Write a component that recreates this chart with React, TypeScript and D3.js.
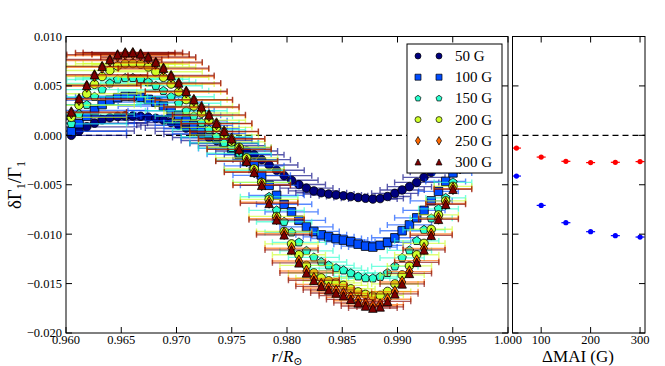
import React from 'react'
import * as d3 from 'd3'

// fractional radius of each inversion point (shared by all series)
const radius = [
  0.96048, 0.96118, 0.96188, 0.96258, 0.96327, 0.96397, 0.96467, 0.96536, 0.96605, 0.96675,
  0.96744, 0.96813, 0.96882, 0.96951, 0.9702, 0.97088, 0.97157, 0.97226, 0.97294, 0.97362,
  0.97431, 0.97499, 0.97567, 0.97635, 0.97703, 0.97771, 0.97838, 0.97906, 0.97974, 0.98041,
  0.98108, 0.98176, 0.98243, 0.9831, 0.98377, 0.98444, 0.98511, 0.98577, 0.98644, 0.98711,
  0.98777, 0.98843, 0.9891, 0.98976, 0.99042, 0.99108, 0.99174, 0.9924, 0.99305, 0.99371,
  0.99436, 0.99502, 0.99567,
]
// horizontal (radial) half-width of the error bars
const radiusErr = [
  0.005, 0.005, 0.0049, 0.0048, 0.0048, 0.0047, 0.0046, 0.0045, 0.0045, 0.0044,
  0.0043, 0.0042, 0.0041, 0.0039, 0.0038, 0.0037, 0.0035, 0.0034, 0.0033, 0.0032,
  0.0031, 0.003, 0.0029, 0.0028, 0.0027, 0.0026, 0.0026, 0.0025, 0.0025, 0.0024,
  0.0024, 0.0024, 0.0023, 0.0023, 0.0023, 0.0023, 0.0022, 0.0022, 0.0022, 0.0022,
  0.0022, 0.0021, 0.0021, 0.0021, 0.002, 0.002, 0.002, 0.0019, 0.0019, 0.0018,
  0.0018, 0.0017, 0.0017,
]

const g50 = [
  0.0, 0.00044, 0.00086, 0.00123, 0.00157, 0.00178, 0.00191, 0.00196, 0.00196, 0.00193,
  0.00184, 0.00172, 0.00154, 0.00129, 0.00103, 0.00073, 0.0004, 0.0001, -0.00022, -0.00053,
  -0.00083, -0.00105, -0.00125, -0.00159, -0.00197, -0.00246, -0.003, -0.00354, -0.00408, -0.00455,
  -0.00498, -0.00534, -0.00562, -0.00581, -0.00594, -0.00603, -0.00612, -0.0062, -0.00629, -0.00637,
  -0.00645, -0.0064, -0.00619, -0.00587, -0.00553, -0.00519, -0.00476, -0.00425, -0.00374, -0.00314,
  -0.00248, -0.00177, -0.00106,
]
const g100 = [
  0.0004, 0.00118, 0.00192, 0.00253, 0.00311, 0.00354, 0.00381, 0.00394, 0.00393, 0.00385,
  0.00364, 0.00336, 0.00296, 0.00248, 0.00202, 0.00147, 0.00101, 0.00066, 0.0002, -0.00025,
  -0.00076, -0.00132, -0.00192, -0.00253, -0.00309, -0.00405, -0.00506, -0.00607, -0.00698, -0.00774,
  -0.0086, -0.00926, -0.00972, -0.01007, -0.01027, -0.01045, -0.0106, -0.01076, -0.01101, -0.01121,
  -0.01131, -0.01113, -0.01083, -0.01037, -0.00966, -0.00906, -0.00835, -0.00759, -0.00663, -0.00567,
  -0.00466, -0.0038, -0.00273,
]
const g150 = [
  0.00116, 0.00216, 0.00309, 0.0039, 0.00462, 0.00526, 0.00565, 0.0058, 0.00581, 0.00567,
  0.00538, 0.00501, 0.0045, 0.0039, 0.00324, 0.00248, 0.00194, 0.00127, 0.00056, -0.00015,
  -0.00076, -0.00127, -0.00182, -0.00253, -0.00354, -0.00476, -0.00622, -0.00759, -0.00875, -0.00982,
  -0.01083, -0.01169, -0.01235, -0.01282, -0.01316, -0.01344, -0.01366, -0.01395, -0.01427, -0.01445,
  -0.01447, -0.01432, -0.01392, -0.01326, -0.0124, -0.01164, -0.01068, -0.00956, -0.0084, -0.00744,
  -0.00633, -0.00476, -0.00283,
]
const g200 = [
  0.00182, 0.00304, 0.0042, 0.00516, 0.00595, 0.00656, 0.00702, 0.00725, 0.00727, 0.00719,
  0.00692, 0.00643, 0.00587, 0.00519, 0.0044, 0.00361, 0.00296, 0.00226, 0.00152, 0.00081,
  0.00005, -0.00066, -0.00121, -0.00228, -0.00339, -0.00476, -0.00648, -0.0082, -0.00972, -0.01098,
  -0.01209, -0.01316, -0.01392, -0.01442, -0.01472, -0.01493, -0.01518, -0.01553, -0.01584, -0.01609,
  -0.01627, -0.01619, -0.01579, -0.01503, -0.01412, -0.01321, -0.01209, -0.01093, -0.00951, -0.00805,
  -0.00663, -0.00516, -0.00314,
]
const g250 = [
  0.00228, 0.00362, 0.00496, 0.00603, 0.00688, 0.00757, 0.00806, 0.00826, 0.00828, 0.00814,
  0.00783, 0.00731, 0.0067, 0.00596, 0.00521, 0.00438, 0.00354, 0.00281, 0.00201, 0.00117,
  0.00037, -0.00037, -0.00142, -0.0026, -0.00369, -0.00499, -0.00677, -0.00843, -0.00993, -0.01143,
  -0.01272, -0.01373, -0.01448, -0.01508, -0.01544, -0.01576, -0.01601, -0.01638, -0.01673, -0.01705,
  -0.01726, -0.01714, -0.01659, -0.01583, -0.01484, -0.01379, -0.01268, -0.01144, -0.00999, -0.00839,
  -0.00689, -0.00539, -0.0033,
]
const g300 = [
  0.00236, 0.00371, 0.00506, 0.00614, 0.00698, 0.00767, 0.00817, 0.00836, 0.00838, 0.00824,
  0.00793, 0.00741, 0.0068, 0.00605, 0.0053, 0.00446, 0.00361, 0.00288, 0.00207, 0.00121,
  0.0004, -0.00035, -0.00142, -0.00263, -0.00374, -0.00506, -0.00688, -0.00855, -0.01007, -0.01159,
  -0.0129, -0.01392, -0.01467, -0.01528, -0.01564, -0.01596, -0.01622, -0.0166, -0.01695, -0.01727,
  -0.01748, -0.01736, -0.0168, -0.01604, -0.01503, -0.01397, -0.01285, -0.01159, -0.01012, -0.0085,
  -0.00698, -0.00546, -0.00334,
]

// right panel
const fields = [50, 100, 150, 200, 250, 300]
const redShift = [-0.00129, -0.0022, -0.00263, -0.00276, -0.00273, -0.00266]
const blueShift = [-0.00412, -0.00709, -0.00884, -0.00975, -0.01015, -0.01029]

const yTicks = [0.01, 0.005, 0, -0.005, -0.01, -0.015, -0.02]
const yTickLabels = ['0.010', '0.005', '0.000', '\u22120.005', '\u22120.010', '\u22120.015', '\u22120.020']
const rTicks = [0.96, 0.965, 0.97, 0.975, 0.98, 0.985, 0.99, 0.995, 1.0]
const rTickLabels = ['0.960', '0.965', '0.970', '0.975', '0.980', '0.985', '0.990', '0.995', '1.000']
const fieldTicks = [100, 200, 300]

const SERIES = [
  { label: '50 G', values: g50, color: '#00007f', shape: 'circle' },
  { label: '100 G', values: g100, color: '#004cff', shape: 'square' },
  { label: '150 G', values: g150, color: '#29ffce', shape: 'pentagon' },
  { label: '200 G', values: g200, color: '#ceff29', shape: 'circle' },
  { label: '250 G', values: g250, color: '#ff6800', shape: 'diamond' },
  { label: '300 G', values: g300, color: '#7f0000', shape: 'triangle' },
]

const serif = { fontFamily: '"Liberation Serif", "DejaVu Serif", serif' }

function markerPath(shape: string, m: number) {
  const h = m / 2
  if (shape === 'circle') return `M${h},0A${h},${h} 0 1,1 ${-h},0A${h},${h} 0 1,1 ${h},0Z`
  if (shape === 'square') return `M${-h},${-h}H${h}V${h}H${-h}Z`
  if (shape === 'triangle') return `M0,${-h}L${h},${h}L${-h},${h}Z`
  if (shape === 'diamond') {
    const a = h * 1.414
    return `M0,${-a}L${a * 0.6},0L0,${a}L${-a * 0.6},0Z`
  }
  // pentagon
  const pts = d3.range(5).map(k => {
    const ang = -Math.PI / 2 + (k * 2 * Math.PI) / 5
    return [h * 1.05 * Math.cos(ang), h * 1.05 * Math.sin(ang)]
  })
  return 'M' + pts.map(p => p.join(',')).join('L') + 'Z'
}

export default function App() {
  const L = 66, R = 508, T = 36.5, B = 333
  const L2 = 512.5, R2 = 645
  const x = d3.scaleLinear().domain([0.96, 1.0]).range([L, R])
  const y = d3.scaleLinear().domain([-0.02, 0.01]).range([B, T])
  const xf = d3.scaleLinear().domain([42, 310]).range([L2, R2])
  const tick = 6

  const legendRows = SERIES.map((s, i) => ({ ...s, ly: 56 + i * 21.2 }))

  return (
    <div style={{ position: 'fixed', left: 0, top: 0 }}>
      <svg width={665} height={366} style={{ display: 'block', background: '#fff', ...serif }}>
        <defs>
          <clipPath id="main-clip">
            <rect x={L} y={T} width={R - L} height={B - T} />
          </clipPath>
        </defs>

        {/* main panel data */}
        <g clipPath="url(#main-clip)">
          <line x1={L} x2={R} y1={y(0)} y2={y(0)} stroke="#000" strokeWidth={1.2} strokeDasharray="6,4" />
          {SERIES.map(s => (
            <g key={s.label}>
              <g stroke={s.color} strokeOpacity={0.65} strokeWidth={1.4} fill="none">
                {s.values.map((v, i) => {
                  const x1 = x(radius[i] - radiusErr[i])
                  const x2 = x(radius[i] + radiusErr[i])
                  const yy = y(v)
                  return <path key={i} d={`M${x1},${yy}H${x2}M${x1},${yy - 3}V${yy + 3}M${x2},${yy - 3}V${yy + 3}`} />
                })}
              </g>
              <g fill={s.color} stroke="#000" strokeWidth={0.8}>
                {s.values.map((v, i) => (
                  <path key={i} d={markerPath(s.shape, 8.5)} transform={`translate(${x(radius[i])},${y(v)})`} />
                ))}
              </g>
            </g>
          ))}
        </g>

        {/* main frame + ticks */}
        <rect x={L} y={T} width={R - L} height={B - T} fill="none" stroke="#000" strokeWidth={1} />
        {rTicks.map(t => (
          <g key={t} stroke="#000" strokeWidth={1}>
            <line x1={x(t)} x2={x(t)} y1={B} y2={B - tick} />
            <line x1={x(t)} x2={x(t)} y1={T} y2={T + tick} />
          </g>
        ))}
        {yTicks.map(t => (
          <g key={t} stroke="#000" strokeWidth={1}>
            <line x1={L} x2={L + tick} y1={y(t)} y2={y(t)} />
            <line x1={R} x2={R - tick} y1={y(t)} y2={y(t)} />
          </g>
        ))}
        {yTicks.map((t, i) => (
          <text key={t} x={L - 4} y={y(t)} dy="0.35em" textAnchor="end" fontSize={12.5} fill="#000" style={serif}>
            {yTickLabels[i]}
          </text>
        ))}
        {rTicks.map((t, i) => (
          <text key={t} x={x(t)} y={344} textAnchor="middle" fontSize={12.5} fill="#000" style={serif}>
            {rTickLabels[i]}
          </text>
        ))}

        {/* legend */}
        <rect x={407} y={44} width={95} height={129} fill="#fff" stroke="#000" strokeWidth={1} />
        {legendRows.map(s => (
          <g key={s.label}>
            {[418, 439].map(mx => (
              <path key={mx} d={markerPath(s.shape, 6)} transform={`translate(${mx},${s.ly})`}
                fill={s.color} stroke="#000" strokeWidth={0.7} />
            ))}
            <text x={455} y={s.ly + 5} fontSize={15} fill="#000" style={serif}>{s.label}</text>
          </g>
        ))}

        {/* right panel */}
        <line x1={L2} x2={R2} y1={y(0)} y2={y(0)} stroke="#000" strokeWidth={1.2} strokeDasharray="6,4" />
        {fields.map((f, i) => (
          <g key={f}>
            <line x1={xf(f) - 4.5} x2={xf(f) + 4.5} y1={y(redShift[i])} y2={y(redShift[i])} stroke="#ff0000" strokeWidth={1.2} />
            <circle cx={xf(f)} cy={y(redShift[i])} r={2.6} fill="#ff0000" />
            <line x1={xf(f) - 4.5} x2={xf(f) + 4.5} y1={y(blueShift[i])} y2={y(blueShift[i])} stroke="#0000ff" strokeWidth={1.2} />
            <circle cx={xf(f)} cy={y(blueShift[i])} r={2.6} fill="#0000ff" />
          </g>
        ))}
        <rect x={L2} y={T} width={R2 - L2} height={B - T} fill="none" stroke="#000" strokeWidth={1} />
        {fieldTicks.map(t => (
          <g key={t} stroke="#000" strokeWidth={1}>
            <line x1={xf(t)} x2={xf(t)} y1={B} y2={B - tick} />
            <line x1={xf(t)} x2={xf(t)} y1={T} y2={T + tick} />
          </g>
        ))}
        {yTicks.map(t => (
          <g key={t} stroke="#000" strokeWidth={1}>
            <line x1={L2} x2={L2 + tick} y1={y(t)} y2={y(t)} />
            <line x1={R2} x2={R2 - tick} y1={y(t)} y2={y(t)} />
          </g>
        ))}
        {fieldTicks.map(t => (
          <text key={t} x={xf(t)} y={344} textAnchor="middle" fontSize={12.5} fill="#000" style={serif}>{t}</text>
        ))}

        {/* axis titles */}
        <text x={287} y={362} textAnchor="middle" fontSize={17} fill="#000" style={serif}>
          <tspan fontStyle="italic">r</tspan>/<tspan fontStyle="italic">R</tspan>
          <tspan fontSize={11} dy={3}>{'\u2299'}</tspan>
        </text>
        <text x={578} y={362} textAnchor="middle" fontSize={17} fill="#000" style={serif}>{'\u0394MAI (G)'}</text>
        <text transform="translate(21,185) rotate(-90)" textAnchor="middle" fontSize={19} fill="#000" style={serif}>
          {'\u03b4\u0393'}<tspan fontSize={12} dy={4}>1</tspan><tspan dy={-4}>{'/\u0393'}</tspan><tspan fontSize={12} dy={4}>1</tspan>
        </text>
      </svg>
    </div>
  )
}
